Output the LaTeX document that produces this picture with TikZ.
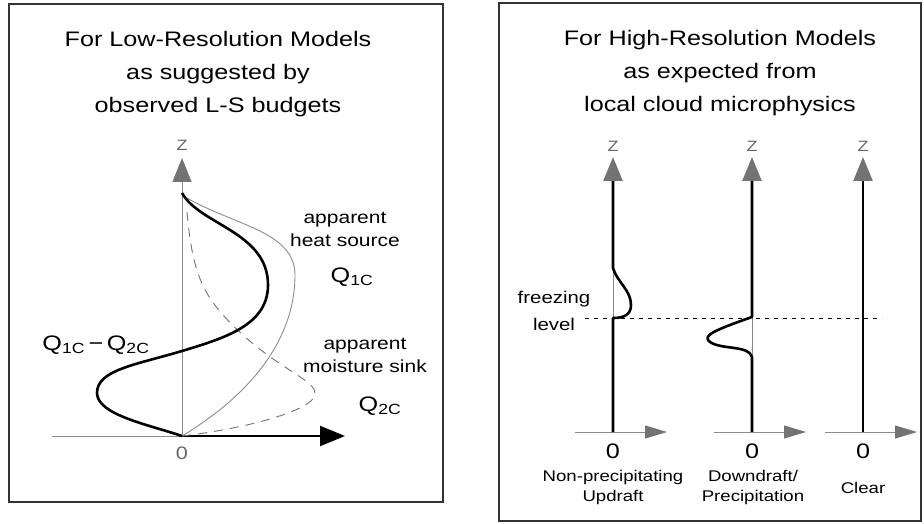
\documentclass[tikz,border=0pt]{standalone}
\usepackage{fontspec}
\setmainfont{Liberation Sans}[FakeStretch=1.2]
\usetikzlibrary{arrows.meta}
\newcommand\fsz[2]{\fontsize{#1}{#2}\selectfont}
\newcommand\Qs[1]{Q\textsubscript{#1}}
\tikzset{
  frame/.style={draw=black!80,line width=1.4pt},
  thinax/.style={black!45,line width=1pt},
  prof/.style={line width=2.6pt,line join=round},
  zarrow/.style={-{Triangle[color=black!55,width=19pt,length=24pt]}},
  xarrow/.style={-{Triangle[color=black!55,width=13pt,length=22pt]}},
  title/.style={align=center,font=\fsz{21}{33}},
  lbl/.style={align=center,font=\fsz{17.5}{23}},
  sub/.style={align=center,font=\fsz{15.5}{20}},
}
\begin{document}
\begin{tikzpicture}[x=1pt,y=-1pt]
\useasboundingbox (0,0) rectangle (924,524);
\draw[frame] (9,4) rectangle (443,502);
\draw[frame] (499,3) rectangle (921,521);

\node[title] (lowtitle) at (218,74) {For Low-Resolution Models\\as suggested by\\observed L-S budgets};
\node[title] (hightitle) at (720,73) {For High-Resolution Models\\as expected from\\local cloud microphysics};

\coordinate (o) at (182,436);
\coordinate (ztop) at (182,158);
\coordinate (xleft) at (52,436);
\coordinate (xtip) at (345,436);
\draw[thinax,zarrow] (o) -- (ztop);
\draw[thinax] (xleft) -- (o);
\draw[line width=2pt,-{Triangle[width=20pt,length=25pt]}] (o) -- (xtip);
\node[black!60,font=\fsz{15}{15}] (zlow) at (182,145) {Z};
\node[black!60,font=\fsz{18}{18}] (olow) at (182,453) {0};

\draw[black!45,line width=0.9pt] (182,195) .. controls (230,225) and (295,230) .. (295,275)
  .. controls (295,340) and (250,395) .. (o);
\draw[black!55,line width=0.9pt,dash pattern=on 9pt off 7pt] (187,212) .. controls (193,280) and (205,300) .. (245,337)
  .. controls (285,372) and (318,382) .. (315,395) .. controls (312,410) and (250,428) .. (o);
\draw[prof] (182,193) .. controls (200,225) and (268,232) .. (268,285)
  .. controls (268,325) and (225,338) .. (182,351) .. controls (135,365) and (97,370) .. (97,393)
  .. controls (97,415) and (150,425) .. (o);

\node[lbl] (heat) at (345,229) {apparent\\heat source};
\node[font=\fsz{21}{21}] (qone) at (352,277) {\Qs{1C}};
\node[font=\fsz{21}{21}] (qdiff) at (96,345) {\Qs{1C}\,−\,\Qs{2C}};
\node[lbl] (moist) at (365,355) {apparent\\moisture sink};
\node[font=\fsz{21}{21}] (qtwo) at (380,406) {\Qs{2C}};

\draw[black,line width=0.9pt,dash pattern=on 4pt off 5pt] (585,318) -- (882,318);
\node[align=center,font=\fsz{17}{27}] (freeze) at (554,311) {freezing\\level};

\foreach \n/\x in {a/613,b/752,c/863}{
  \coordinate (base\n) at (\x,432);
  \coordinate (top\n) at (\x,157);
  \draw[thinax] (base\n) -- (\x,185);
  \draw[thinax,xarrow] (\x-38,432) -- (\x+54,432);
  \node[black!60,font=\fsz{15}{15}] (z\n) at (\x,146) {Z};
  \node[font=\fsz{21}{21}] (zero\n) at (\x,451) {0};
}
\draw[prof,zarrow] (basea) -- (613,318) .. controls (625,318) and (631,314) .. (631,305)
  .. controls (631,290) and (617,282) .. (613,268) -- (topa);
\draw[prof,zarrow] (baseb) -- (752,357) .. controls (749,345) and (722,350) .. (710,342)
  .. controls (702,336) and (712,331) .. (752,317) -- (topb);
\draw[prof,zarrow] (basec) -- (topc);

\node[sub] (updraft) at (613,487) {Non-precipitating\\Updraft};
\node[sub] (downdraft) at (753,487) {Downdraft/\\Precipitation};
\node[sub] (clear) at (863,488) {Clear};
\end{tikzpicture}
\end{document}
